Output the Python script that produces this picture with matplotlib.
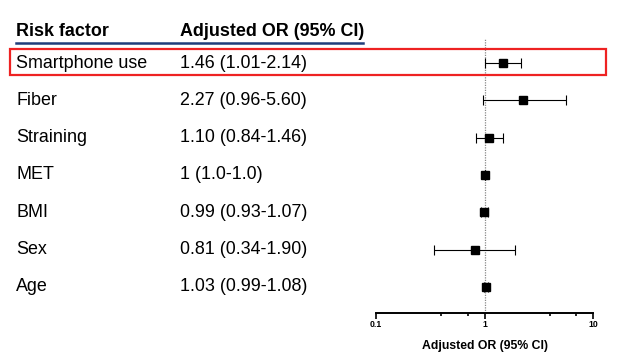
import matplotlib
matplotlib.use("Agg")
import matplotlib.pyplot as plt
import matplotlib.transforms as mtransforms
from matplotlib.patches import Rectangle
from matplotlib.lines import Line2D

factors = ["Smartphone use", "Fiber", "Straining", "MET", "BMI", "Sex", "Age"]
or_text = ["1.46 (1.01-2.14)", "2.27 (0.96-5.60)", "1.10 (0.84-1.46)", "1 (1.0-1.0)",
           "0.99 (0.93-1.07)", "0.81 (0.34-1.90)", "1.03 (0.99-1.08)"]
or_vals = [1.46, 2.27, 1.10, 1.0, 0.99, 0.81, 1.03]
ci_low = [1.01, 0.96, 0.84, 1.0, 0.93, 0.34, 0.99]
ci_high = [2.14, 5.60, 1.46, 1.0, 1.07, 1.90, 1.08]
major_ticks = [0.1, 1, 10]
major_labels = ["0.1", "1", "10"]
minor_ticks = [0.4, 0.7, 4, 7]

plt.rcParams['font.family'] = ['Liberation Sans', 'DejaVu Sans']

W, H = 617, 358
fig = plt.figure(figsize=(W/100, H/100), dpi=100)

def fx(px): return px / W
def fy(py): return 1 - py / H

row0, step = 63.0, 37.3
top_px, bot_px = 38.0, 312.5
left_px, right_px = 376.0, 593.3
ax = fig.add_axes([fx(left_px), fy(bot_px), fx(right_px - left_px), (bot_px - top_px) / H])
ax.set_xscale('log')
ax.set_xlim(0.1, 10)
ax.set_ylim((bot_px - row0) / step, (top_px - row0) / step)

ys = list(range(len(factors)))
xerr = [[v - l for v, l in zip(or_vals, ci_low)], [h - v for v, h in zip(or_vals, ci_high)]]
ax.errorbar(or_vals, ys, xerr=xerr, fmt='s', color='black', ecolor='black',
            elinewidth=0.8, capsize=3.5, capthick=0.8, markersize=6.2, zorder=3)
ax.axvline(1, color='#888888', linestyle=(0, (1, 1)), linewidth=0.9, zorder=1)

for s in ['left', 'top', 'right']:
    ax.spines[s].set_visible(False)
ax.spines['bottom'].set_linewidth(1.4)
ax.set_yticks([])
ax.set_xticks(major_ticks)
ax.set_xticklabels(major_labels, fontsize=6.2, fontweight='bold')
ax.set_xticks(minor_ticks, minor=True)
ax.set_xticklabels([], minor=True)
ax.tick_params(axis='x', which='major', length=4, width=1.2, pad=1.5)
ax.tick_params(axis='x', which='minor', length=2.5, width=1.2)
ax.set_xlabel("Adjusted OR (95% CI)", fontsize=8.8, fontweight='bold', labelpad=8)

trans = mtransforms.blended_transform_factory(fig.transFigure, ax.transData)
for i, (f, t) in enumerate(zip(factors, or_text)):
    fig.text(fx(16), i, f, transform=trans, fontsize=12.9, va='center', ha='left')
    fig.text(fx(180), i, t, transform=trans, fontsize=12.9, va='center', ha='left')

fig.text(fx(16), fy(31), "Risk factor", fontsize=12.9, fontweight='bold', va='center', ha='left')
fig.text(fx(180), fy(31), "Adjusted OR (95% CI)", fontsize=12.9, fontweight='bold', va='center', ha='left')
fig.add_artist(Line2D([fx(16), fx(363)], [fy(42.5), fy(42.5)], color='#1f3d7a', linewidth=1.8))

fig.add_artist(Rectangle((fx(10), fy(75)), fx(605.5 - 10), (75 - 48.5) / H,
                         fill=False, edgecolor='#ee2222', linewidth=1.6, zorder=5))

fig.savefig("out.png", dpi=100)
